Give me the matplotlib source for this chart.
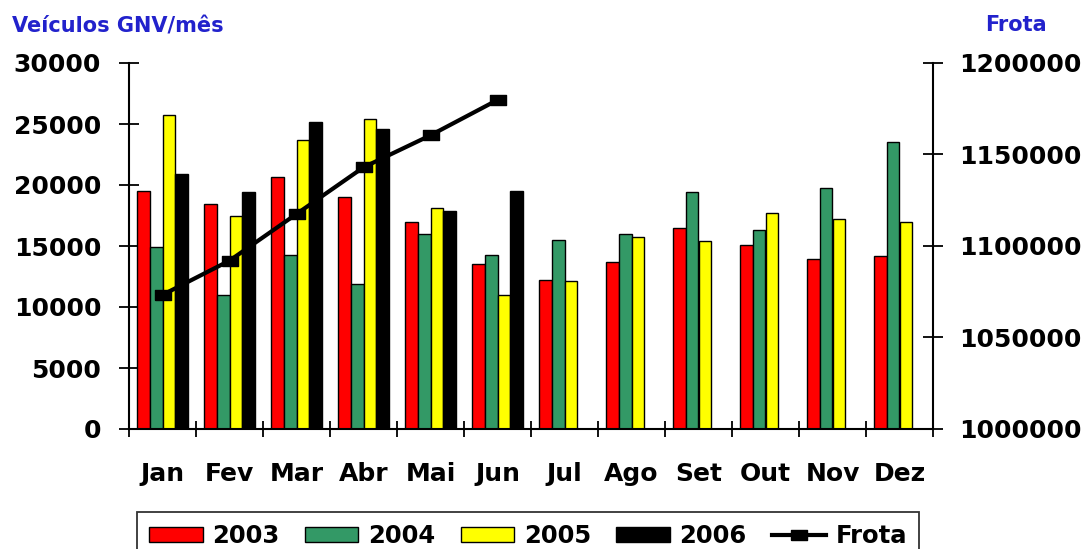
import matplotlib
matplotlib.use("Agg")
import matplotlib.pyplot as plt
import numpy as np
from matplotlib.patches import Patch
from matplotlib.lines import Line2D
from matplotlib.ticker import StrMethodFormatter

meses = ["Jan", "Fev", "Mar", "Abr", "Mai", "Jun",
         "Jul", "Ago", "Set", "Out", "Nov", "Dez"]

gnv_2003 = [19500, 18450, 20650, 19000, 16950, 13500,
            12250, 13650, 16450, 15050, 13900, 14200]
gnv_2004 = [14900, 10950, 14300, 11850, 15950, 14250,
            15500, 15950, 19400, 16300, 19750, 23550]
gnv_2005 = [25700, 17450, 23700, 25450, 18100, 10950,
            12150, 15700, 15400, 17700, 17200, 16950]
gnv_2006 = [20900, 19400, 25200, 24600, 17850, 19500,
            np.nan, np.nan, np.nan, np.nan, np.nan, np.nan]

frota_meses = ["Jan", "Fev", "Mar", "Abr", "Mai", "Jun"]
frota = [1073300, 1092000, 1117500, 1143000, 1160500, 1179800]

anos = ["2003", "2004", "2005", "2006"]
cores = ["#ff0000", "#339966", "#ffff00", "#000000"]
azul = "#2222cc"

plt.rcParams['font.family'] = ['DejaVu Sans']
plt.rcParams['font.weight'] = 'bold'

fig = plt.figure(figsize=(10.89, 5.49), dpi=100)
ax = fig.add_axes([129/1089, 1-429/549, (933-129)/1089, (429-63)/549])

x = np.arange(len(meses)) + 0.5
w = 0.19
series = [gnv_2003, gnv_2004, gnv_2005, gnv_2006]
for k, vals in enumerate(series):
    ax.bar(x + (k - 1.5)*w, vals, width=w, color=cores[k],
           edgecolor="black", linewidth=1, zorder=2)

ax.set_xlim(0, 12)
ax.set_ylim(0, 30000)
ax.set_yticks(np.arange(0, 30001, 5000))
ax.set_xticks(np.arange(0, 13), labels=[""]*13)
ax.set_xticks(x, labels=meses, minor=True)
ax.tick_params(axis="x", which="major", direction="inout", length=12,
               width=1.3, color="black")
ax.tick_params(axis="x", which="minor", length=0, pad=24, labelsize=18)
ax.tick_params(axis="y", direction="inout", length=14, width=1.3,
               pad=13, labelsize=18)
for s in ["top", "right"]:
    ax.spines[s].set_visible(False)
for s in ["left", "bottom"]:
    ax.spines[s].set_linewidth(1.5)

# frota total no eixo da direita
ax2 = ax.twinx()
rect = [(-1.5, -1), (1.5, -1), (1.5, 1), (-1.5, 1), (-1.5, -1)]
xf = [x[meses.index(m)] for m in frota_meses]
ax2.plot(xf, frota, color="black", linewidth=3, marker=rect,
         markersize=11, zorder=3)
ax2.set_ylim(1000000, 1200000)
ax2.set_yticks(np.arange(1000000, 1200001, 50000))
ax2.yaxis.set_major_formatter(StrMethodFormatter("{x:.0f}"))
ax2.tick_params(axis="y", direction="inout", length=14, width=1.3,
                pad=12, labelsize=18)
for s in ["top", "left", "bottom"]:
    ax2.spines[s].set_visible(False)
ax2.spines["right"].set_linewidth(1.5)

fig.text(12/1089, 1-27/549, "Veículos GNV/mês", color=azul, fontsize=15,
         fontweight="bold", va="center", ha="left")
fig.text(1016/1089, 1-25/549, "Frota", color=azul, fontsize=15,
         fontweight="bold", va="center", ha="center")

handles = [Patch(facecolor=c, edgecolor="black", linewidth=1) for c in cores]
handles.append(Line2D([], [], color="black", linewidth=3, marker=rect,
                      markersize=11))
fig.legend(handles, anos + ["Frota"], loc="upper left", ncol=5,
           bbox_to_anchor=(137/1089, -0.2, 782/1089, 0.2 + 1 - 512/549),
           mode="expand", frameon=True, fancybox=False, edgecolor="black",
           fontsize=17.5, handlelength=2.2, handleheight=0.6,
           handletextpad=0.4, borderpad=0.5, borderaxespad=0)
fig.legends[0].get_frame().set_linewidth(1.3)

fig.savefig("out.png", dpi=100, facecolor="white")
